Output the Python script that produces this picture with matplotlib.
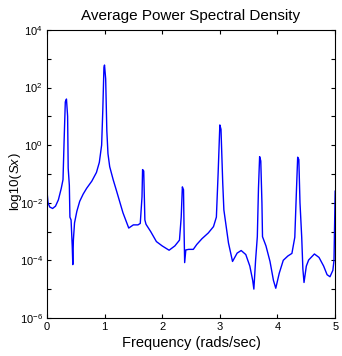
import numpy as np
import matplotlib
matplotlib.use("Agg")
from matplotlib import pyplot as plt
from matplotlib.ticker import FixedLocator, FixedFormatter

# frequency (rads/sec) and log10 of the averaged PSD
freq = [0.00, 0.02, 0.05, 0.10, 0.15, 0.20, 0.25, 0.28, 0.30, 0.32,
        0.34, 0.36, 0.37, 0.39, 0.40, 0.42, 0.44, 0.45, 0.46, 0.48,
        0.52, 0.57, 0.63, 0.69, 0.78, 0.86, 0.91, 0.95, 0.97, 0.99,
        1.00, 1.02, 1.04, 1.06, 1.09, 1.15, 1.21, 1.32, 1.42, 1.50,
        1.58, 1.62, 1.65, 1.66, 1.68, 1.70, 1.72, 1.80, 1.90, 2.00,
        2.12, 2.22, 2.30, 2.33, 2.35, 2.37, 2.38, 2.39, 2.41, 2.46,
        2.54, 2.60, 2.69, 2.80, 2.89, 2.94, 2.97, 3.00, 3.02, 3.05,
        3.07, 3.15, 3.22, 3.30, 3.37, 3.45, 3.52, 3.57, 3.59, 3.62,
        3.65, 3.67, 3.69, 3.71, 3.73, 3.74, 3.80, 3.87, 3.93, 3.97,
        4.03, 4.10, 4.18, 4.25, 4.30, 4.33, 4.35, 4.37, 4.39, 4.42,
        4.44, 4.46, 4.50, 4.54, 4.64, 4.72, 4.80, 4.86, 4.91, 4.96,
        4.98, 5.00]
log_sx = [-1.55, -2.00, -2.15, -2.20, -2.12, -1.90, -1.50, -1.20, 0.20, 1.50,
          1.60, 1.00, -0.80, -1.40, -2.50, -2.60, -3.50, -4.15, -3.30, -2.70,
          -2.30, -1.95, -1.70, -1.50, -1.25, -0.95, -0.60, 0.00, 1.20, 2.70,
          2.78, 2.30, 0.50, -0.30, -0.75, -1.20, -1.60, -2.35, -2.88, -2.77,
          -2.77, -2.72, -1.80, -0.85, -0.90, -2.60, -2.75, -3.00, -3.35, -3.50,
          -3.65, -3.50, -3.30, -2.50, -1.45, -1.55, -3.00, -4.08, -3.64, -3.62,
          -3.62, -3.45, -3.25, -3.05, -2.83, -2.50, -1.00, 0.70, 0.55, -1.30,
          -2.25, -3.40, -4.04, -3.75, -3.66, -3.80, -4.20, -4.70, -5.00, -4.00,
          -3.18, -1.50, -0.40, -0.55, -2.00, -3.18, -3.50, -4.04, -4.70, -4.97,
          -4.45, -4.00, -3.85, -3.76, -3.20, -1.50, -0.42, -0.50, -2.00, -3.20,
          -4.30, -4.77, -4.20, -3.99, -3.78, -3.90, -4.20, -4.50, -4.57, -4.35,
          -4.00, -1.60]

decades = [-6, -5, -4, -3, -2, -1, 0, 1, 2, 3, 4]
xticks = [0, 1, 2, 3, 4, 5]

plt.rcParams['font.family'] = ['Liberation Sans', 'DejaVu Sans']
plt.rcParams['mathtext.fontset'] = 'custom'
plt.rcParams['mathtext.rm'] = 'Liberation Sans'

fig = plt.figure(figsize=(3.42, 3.56), dpi=100)
ax = fig.add_axes([0.137, 0.107, 0.843, 0.809])

ax.semilogy(freq, 10.0 ** np.asarray(log_sx), color='#0000ff', lw=1.0)

ax.set_xlim(0, 5)
ax.set_ylim(1e-6, 1e4)
ax.xaxis.set_major_locator(FixedLocator(xticks))
ax.set_xticklabels([str(t) for t in xticks])
# a tick every decade, a label every second one
ax.yaxis.set_major_locator(FixedLocator([10.0 ** d for d in decades]))
ax.yaxis.set_major_formatter(FixedFormatter(
    [r'$10^{%d}$' % d if d % 2 == 0 else '' for d in decades]))
ax.yaxis.set_minor_locator(FixedLocator([]))
ax.tick_params(direction='in', length=3, width=0.8, top=True, right=True,
               labelsize=8, pad=3)

for sp in ax.spines.values():
    sp.set_linewidth(0.8)

ax.set_title('Average Power Spectral Density', fontsize=11, pad=7)
ax.set_xlabel('Frequency (rads/sec)', fontsize=10.5, labelpad=3)

# y label: "log10(" upright, "Sx" italic, ")" upright
yl = 0.513
fig.text(0.045, yl, 'log10(', rotation=90, fontsize=9.5,
         ha='center', va='top')
fig.text(0.045, yl, 'Sx', rotation=90, fontsize=9.5, style='italic',
         ha='center', va='bottom')
fig.text(0.045, yl + 0.047, ')', rotation=90, fontsize=9.5,
         ha='center', va='bottom')

fig.savefig('out.png', dpi=100)
